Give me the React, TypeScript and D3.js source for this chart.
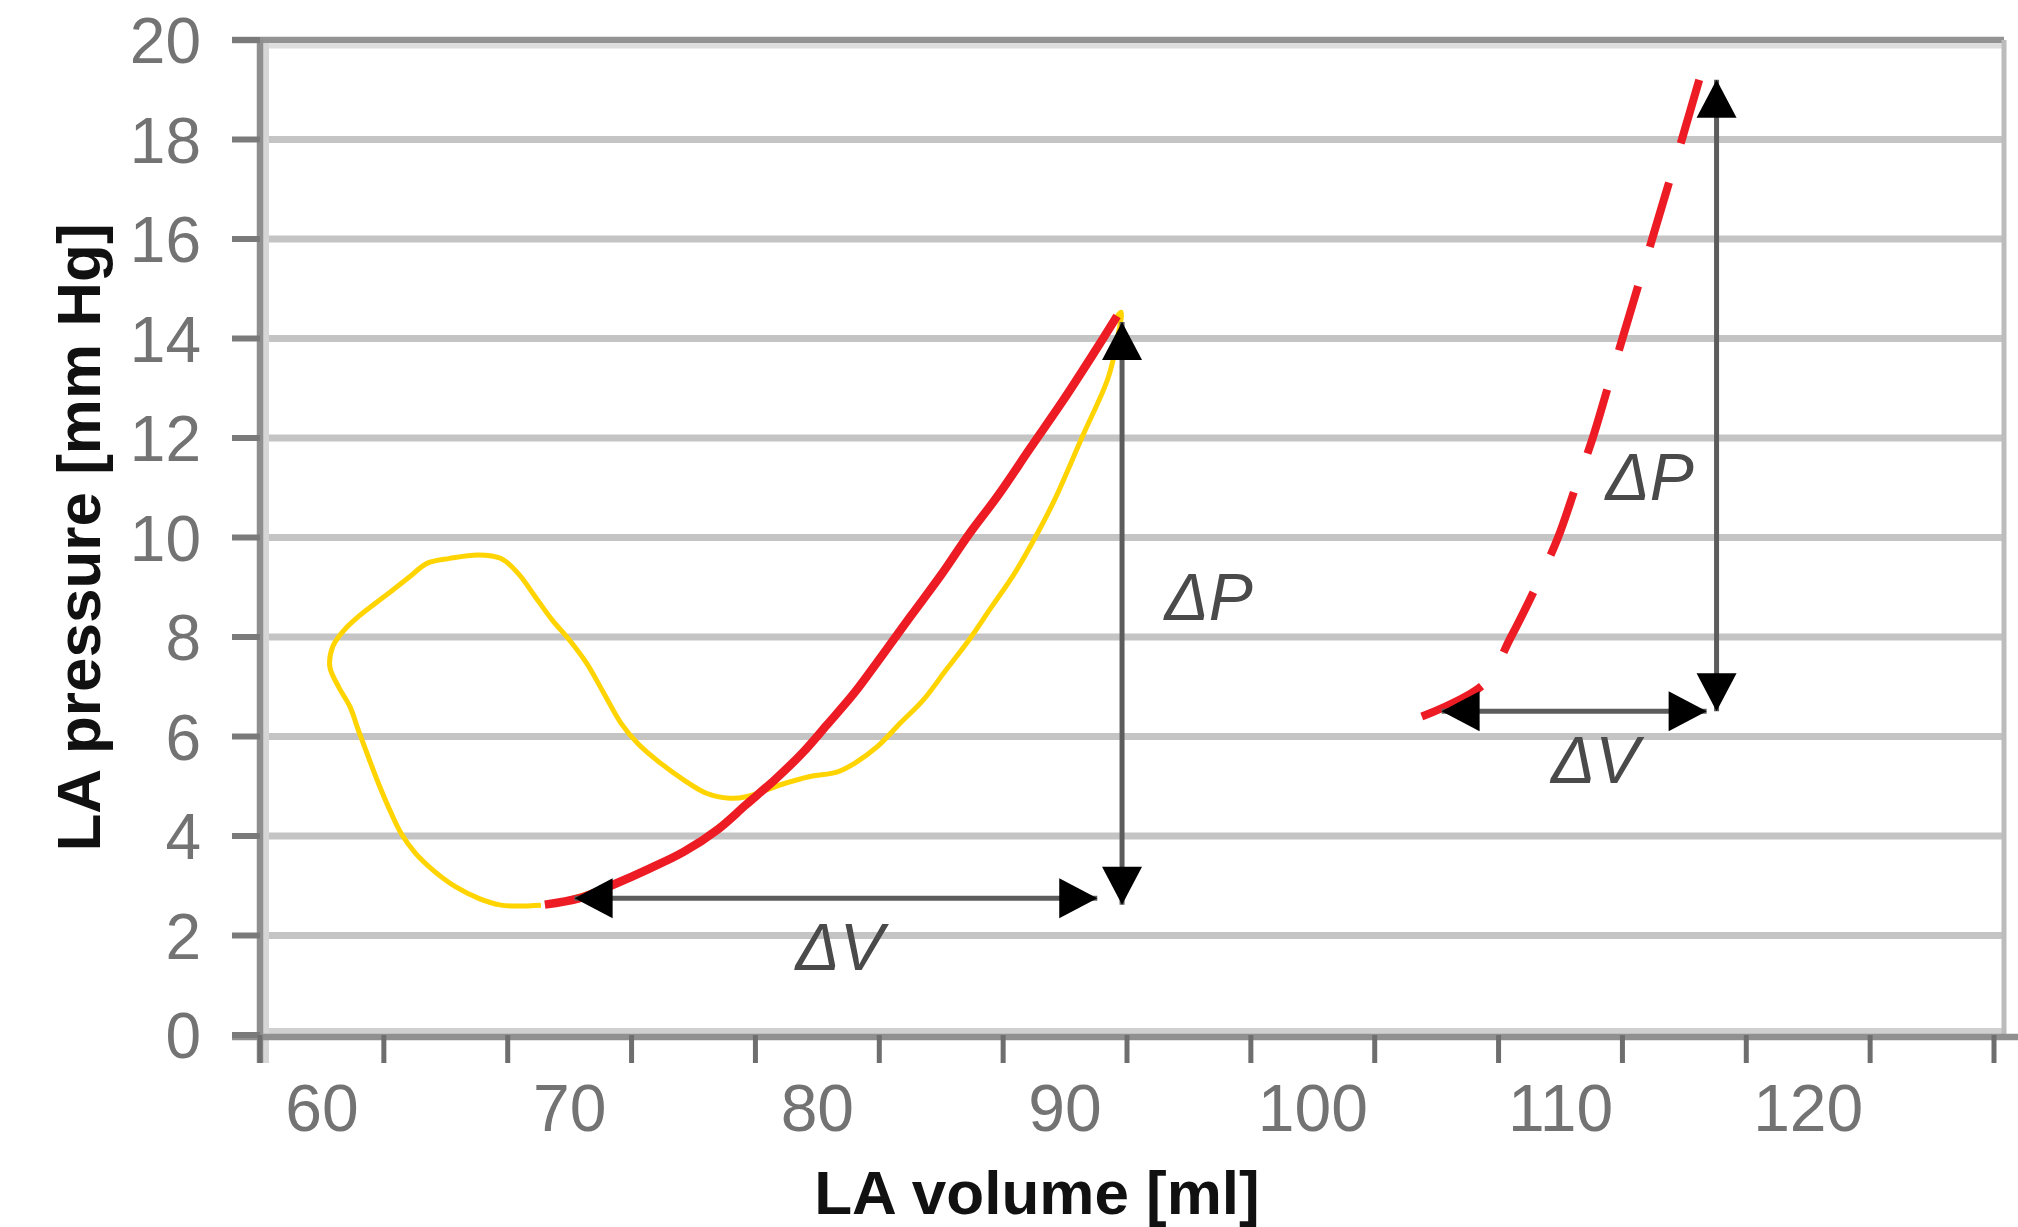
import { curveCatmullRom, line, scaleLinear } from 'd3';

const WIDTH = 2018;
const HEIGHT = 1227;
const MARGIN = { top: 40, right: 14, bottom: 192, left: 260 };
const FONT = '"Liberation Sans", Arial, sans-serif';

// axis ticks / labels
const volumeTicks = [57.5, 62.5, 67.5, 72.5, 77.5, 82.5, 87.5, 92.5, 97.5, 102.5, 107.5, 112.5, 117.5, 122.5, 127.5];
const volumeLabels = [60, 70, 80, 90, 100, 110, 120];
const pressureTicks = [0, 2, 4, 6, 8, 10, 12, 14, 16, 18, 20];

// yellow pressure-volume loop (runs back down under the red curve)
const loopVolume = [
  68.84, 67.23, 66.31, 65.39, 64.47, 63.78, 63.2, 62.74, 62.28, 61.82, 61.47, 61.13, 60.67, 60.32, 60.44,
  60.9, 61.47, 62.16, 62.85, 63.54, 64.24, 65.16, 66.31, 67.23, 67.92, 68.61, 69.3, 69.99, 70.69, 71.38,
  72.07, 72.75, 73.68, 74.6, 75.52, 76.45, 77.13, 78.52, 79.66, 80.82, 81.5, 82.43, 83.35, 84.27, 85.2,
  86.12, 87.04, 87.96, 88.88, 89.57, 90.69, 91.74, 92.1, 92.26, 91.6, 90.3, 88.6, 86.1, 83.8, 81.5, 79.4,
  77.1, 74.6, 71.8, 69.4,
];
const loopPressure = [
  2.61, 2.61, 2.75, 2.98, 3.32, 3.65, 4.05, 4.52, 5.06, 5.66, 6.13, 6.6, 7.0, 7.4, 7.81,
  8.14, 8.41, 8.68, 8.94, 9.21, 9.48, 9.58, 9.65, 9.58, 9.28, 8.81, 8.34, 7.94, 7.47, 6.87,
  6.27, 5.86, 5.46, 5.13, 4.86, 4.76, 4.79, 5.03, 5.19, 5.29, 5.46, 5.8, 6.27, 6.73, 7.34,
  7.94, 8.61, 9.28, 10.08, 10.75, 12.02, 13.21, 13.97, 14.53, 14.0, 13.0, 11.8, 10.05, 8.44, 6.88, 5.67,
  4.62, 3.68, 3.03, 2.64,
];

// red solid curve
const solidVolume = [69.0, 70.4, 71.8, 73.2, 74.6, 76.0, 77.1, 78.3, 79.4, 80.4, 81.5, 82.6, 83.8, 85.0, 86.1, 87.3, 88.6, 89.9, 91.1, 92.1];
const solidPressure = [2.62, 2.75, 3.03, 3.34, 3.68, 4.14, 4.62, 5.14, 5.67, 6.24, 6.88, 7.62, 8.44, 9.25, 10.05, 10.85, 11.8, 12.74, 13.66, 14.45];

// red dashed curve
const dashedVolume = [104.4, 106.9, 108.0, 109.0, 109.9, 110.6, 111.3, 111.9, 112.5, 113.1, 113.7, 114.3, 114.9, 115.6];
const dashedPressure = [6.4, 7.05, 8.0, 9.0, 10.0, 11.0, 12.0, 13.0, 14.0, 15.0, 16.0, 17.0, 18.0, 19.2];

// double-headed arrows (volume / pressure of both tips)
const arrows = [
  { v1: 70.2, p1: 2.75, v2: 91.3, p2: 2.75 },
  { v1: 92.3, p1: 14.33, v2: 92.3, p2: 2.62 },
  { v1: 105.2, p1: 6.51, v2: 115.9, p2: 6.51 },
  { v1: 116.3, p1: 19.2, v2: 116.3, p2: 6.51 },
];

const deltaLabels = [
  { text: 'ΔV', volume: 80.9, pressure: 1.31 },
  { text: 'ΔP', volume: 95.8, pressure: 8.34 },
  { text: 'ΔV', volume: 111.4, pressure: 5.07 },
  { text: 'ΔP', volume: 113.6, pressure: 10.75 },
];

const zip = (xs: number[], ys: number[]) => xs.map((x, i) => [x, ys[i]] as [number, number]);

export default function App() {
  const x = scaleLinear().domain([57.5, 127.5]).range([MARGIN.left, WIDTH - MARGIN.right - 10]);
  const y = scaleLinear().domain([0, 20]).range([HEIGHT - MARGIN.bottom, MARGIN.top]);

  const curve = line<[number, number]>()
    .x((d) => x(d[0]))
    .y((d) => y(d[1]))
    .curve(curveCatmullRom.alpha(0.5));

  const plotRight = WIDTH - MARGIN.right;
  const x0 = x.range()[0];
  const y0 = y(0);

  const arrowHead = (tx: number, ty: number, fx: number, fy: number) => {
    const len = Math.hypot(tx - fx, ty - fy) || 1;
    const ux = (tx - fx) / len;
    const uy = (ty - fy) / len;
    const L = 38;
    const W = 20;
    const bx = tx - ux * L;
    const by = ty - uy * L;
    return `M${tx},${ty}L${bx - uy * W},${by + ux * W}L${bx + uy * W},${by - ux * W}Z`;
  };

  return (
    <svg
      width={WIDTH}
      height={HEIGHT}
      viewBox={`0 0 ${WIDTH} ${HEIGHT}`}
      style={{ position: 'absolute', left: 0, top: 0, background: '#fff', display: 'block' }}
    >
      <rect width={WIDTH} height={HEIGHT} fill="#fff" />

      {/* gridlines */}
      {pressureTicks
        .filter((t) => t > 0 && t < 20)
        .map((t) => (
          <line key={`g${t}`} x1={x0} x2={plotRight} y1={y(t)} y2={y(t)} stroke="#c4c4c4" strokeWidth={7} />
        ))}
      <line x1={x0} x2={plotRight} y1={y0 - 4} y2={y0 - 4} stroke="#d0d0d0" strokeWidth={6} />

      {/* plot border */}
      <line x1={x0 - 28} x2={plotRight} y1={y(20)} y2={y(20)} stroke="#939393" strokeWidth={6.5} />
      <line x1={x0} x2={plotRight} y1={y(20) + 6} y2={y(20) + 6} stroke="#dedede" strokeWidth={5} />
      <line x1={plotRight} x2={plotRight} y1={y(20)} y2={y0} stroke="#bcbcbc" strokeWidth={5} />

      {/* loop and curves */}
      <path d={curve(zip(loopVolume, loopPressure)) ?? ''} fill="none" stroke="#ffd400" strokeWidth={5} />
      <path d={curve(zip(solidVolume, solidPressure)) ?? ''} fill="none" stroke="#ed1c24" strokeWidth={8.5} />
      <path
        d={curve(zip(dashedVolume, dashedPressure)) ?? ''}
        fill="none"
        stroke="#ed1c24"
        strokeWidth={8}
        strokeDasharray="67 41"
      />

      {/* arrows */}
      {arrows.map((a, i) => {
        const ax1 = x(a.v1);
        const ay1 = y(a.p1);
        const ax2 = x(a.v2);
        const ay2 = y(a.p2);
        return (
          <g key={`a${i}`}>
            <line x1={ax1} y1={ay1} x2={ax2} y2={ay2} stroke="#5c5c5c" strokeWidth={5} />
            <path d={arrowHead(ax1, ay1, ax2, ay2)} fill="#000" />
            <path d={arrowHead(ax2, ay2, ax1, ay1)} fill="#000" />
          </g>
        );
      })}

      {/* axes */}
      <line x1={x0 + 6} x2={x0 + 6} y1={y(20) + 3} y2={y0 + 28} stroke="#d6d6d6" strokeWidth={6} />
      <line x1={x0} x2={x0} y1={y(20)} y2={y0 + 28} stroke="#8f8f8f" strokeWidth={6.5} />
      <line x1={x0 - 28} x2={WIDTH} y1={y0 + 2} y2={y0 + 2} stroke="#909090" strokeWidth={6.5} />
      {pressureTicks.map((t) => (
        <line key={`yt${t}`} x1={x0 - 28} x2={x0} y1={y(t)} y2={y(t)} stroke="#7a7a7a" strokeWidth={6} />
      ))}
      {volumeTicks.map((t) => (
        <line key={`xt${t}`} x1={x(t)} x2={x(t)} y1={y0} y2={y0 + 28} stroke="#6e6e6e" strokeWidth={5} />
      ))}

      {/* tick labels */}
      {pressureTicks.map((t) => (
        <text
          key={`yl${t}`}
          x={201}
          y={y(t)}
          dy="0.36em"
          textAnchor="end"
          fontFamily={FONT}
          fontSize={64}
          fill="#737373"
        >
          {t}
        </text>
      ))}
      {volumeLabels.map((t) => (
        <text
          key={`xl${t}`}
          x={x(t)}
          y={1131}
          textAnchor="middle"
          fontFamily={FONT}
          fontSize={66}
          fill="#737373"
        >
          {t}
        </text>
      ))}

      {/* delta labels */}
      {deltaLabels.map((d, i) => (
        <text
          key={`d${i}`}
          x={x(d.volume)}
          y={y(d.pressure)}
          textAnchor="middle"
          fontFamily={FONT}
          fontStyle="italic"
          fontSize={66}
          fill="#4a4a4a"
        >
          {d.text}
        </text>
      ))}

      {/* axis titles */}
      <text
        x={1037}
        y={1214}
        textAnchor="middle"
        fontFamily={FONT}
        fontWeight="bold"
        fontSize={62}
        fill="#111"
      >
        LA volume [ml]
      </text>
      <text
        transform={`translate(100 ${(y(20) + y0) / 2}) rotate(-90)`}
        textAnchor="middle"
        fontFamily={FONT}
        fontWeight="bold"
        fontSize={62}
        fill="#111"
      >
        LA pressure [mm Hg]
      </text>
    </svg>
  );
}
